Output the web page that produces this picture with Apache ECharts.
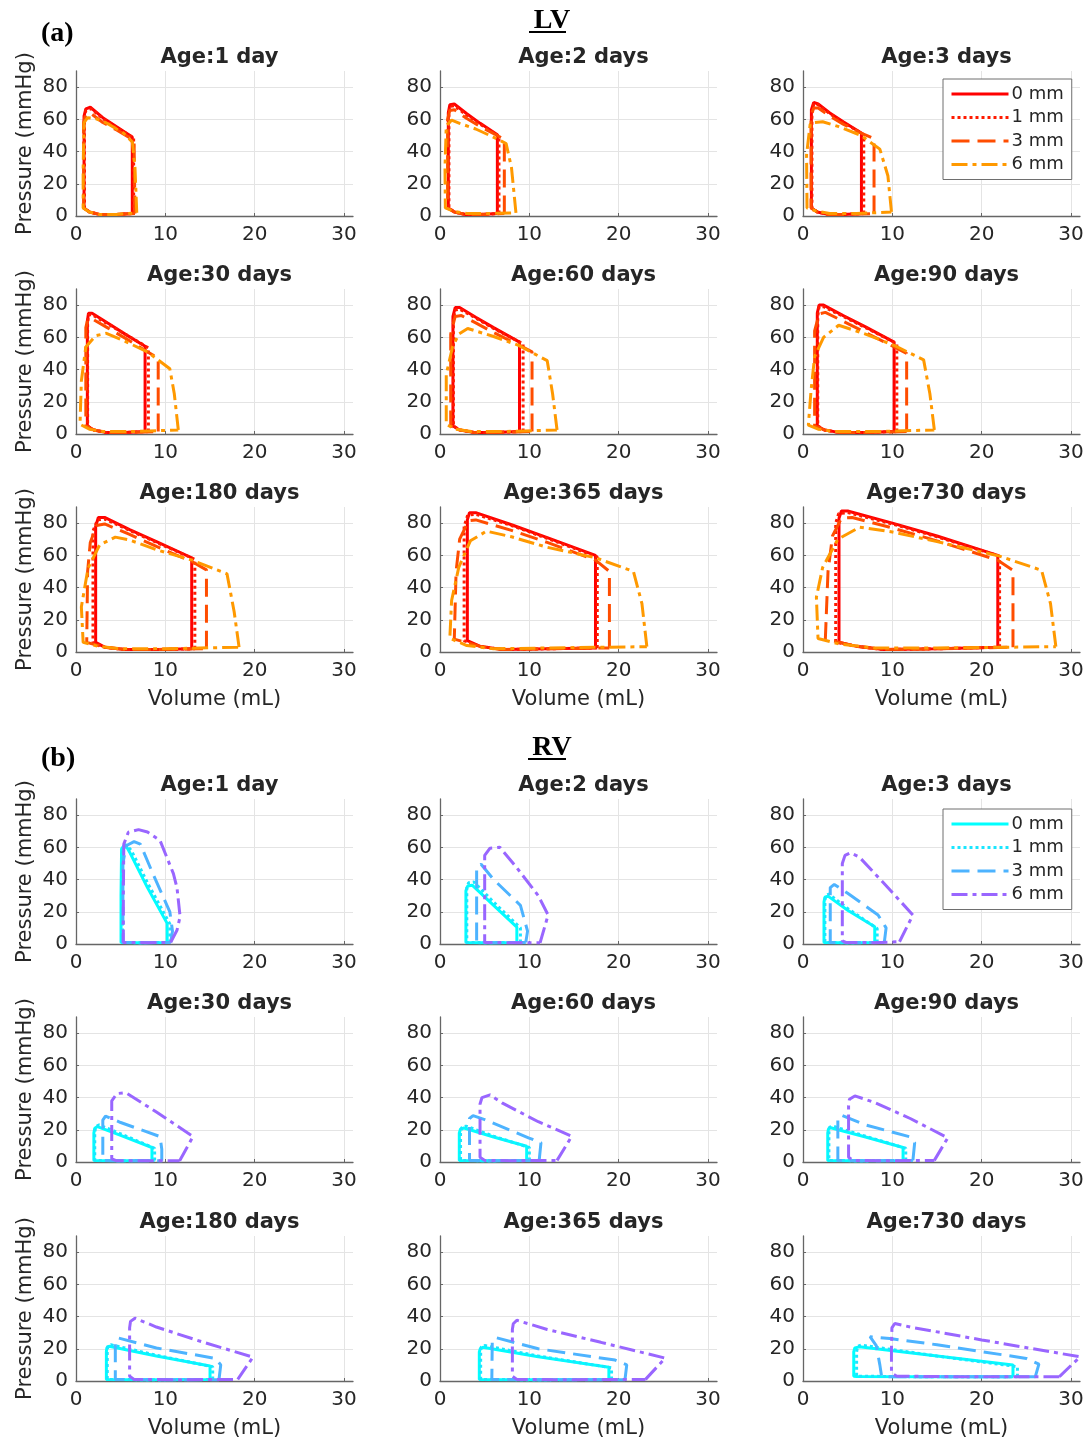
<!DOCTYPE html>
<html>
<head>
<meta charset="utf-8">
<script src="https://cdn.jsdelivr.net/npm/echarts@6/dist/echarts.min.js"></script>
<style>
html, body { margin: 0; padding: 0; background: #fff; }
#chart { width: 1090px; height: 1443px; }
</style>
</head>
<body>
<div id="chart"></div>
<script>
var ageTitles = ['Age:1 day', 'Age:2 days', 'Age:3 days', 'Age:30 days', 'Age:60 days', 'Age:90 days', 'Age:180 days', 'Age:365 days', 'Age:730 days'];
var bandLabels = ['0 mm', '1 mm', '3 mm', '6 mm'];
var lvColors = ['#ff0000', '#ff1a00', '#ff4d00', '#ff9900'];
var rvColors = ['#00ffff', '#1ae6ff', '#4db3ff', '#9966ff'];

// LV loops, per panel: [0 mm, 1 mm, 3 mm, 6 mm], points are [volume mL, pressure mmHg]
var lv_1day = [
	[[6.3,1.5],[6.3,49],[4.5,55.5],[3,61],[1.6,67.5],[1.1,66.5],[0.9,62],[0.9,5],[1.5,2.5],[2.6,1],[4.5,1],[6.3,1.5]],
	[[6.45,1.5],[6.45,48.5],[4.5,55],[3,60.5],[1.7,66.5],[1.1,65.5],[0.95,60],[0.95,5],[1.5,2.5],[2.6,1],[4.5,1],[6.45,1.5]],
	[[6.6,1.5],[6.5,46],[6.2,48],[4.5,53.5],[3,58],[1.7,63.5],[1.1,63],[0.85,58],[0.85,5],[1.5,2.5],[2.6,1],[4.5,1],[6.6,1.5]],
	[[6.8,2],[6.6,30],[6.3,46],[5.3,51.5],[3.5,57.5],[2.2,60.5],[1.3,61],[0.9,58],[0.8,30],[0.8,5],[1.5,2.5],[2.6,1],[4.5,1],[6.8,2]]
];
var lv_2days = [
	[[6.42,1.5],[6.42,50.5],[4.5,57.5],[3,63.5],[1.6,69.5],[1.1,69],[0.93,64],[0.93,5],[1.6,2.5],[2.8,1],[4.5,1],[6.42,1.5]],
	[[6.6,1.5],[6.6,49.5],[4.5,57],[3,62.5],[1.6,68.5],[1.1,68],[1.0,62],[1.0,5],[1.6,2.5],[2.8,1],[4.5,1],[6.6,1.5]],
	[[7.2,1.5],[7.2,47.5],[6.4,50],[4.5,55.5],[3,60.5],[1.6,66],[1.1,65.5],[0.85,60],[0.85,5],[1.6,2.5],[2.8,1],[4.5,1],[7.2,1.5]],
	[[8.5,2],[8.0,30],[7.4,45],[6.35,48],[4,54],[2.2,57.5],[1.3,59.5],[0.7,56],[0.56,30],[0.6,5],[1.5,3],[3,1.5],[5,1.5],[8.5,2]]
];
var lv_3days = [
	[[6.54,1.5],[6.54,51.5],[4.5,58.5],[3,64],[1.7,69.5],[1.2,70.5],[0.94,66],[0.94,5],[1.6,2.5],[2.8,1],[4.5,1],[6.54,1.5]],
	[[6.8,1.5],[6.8,50.5],[4.5,58],[3,63.5],[1.7,69],[1.2,69.5],[1.0,64],[1.0,5],[1.6,2.5],[2.8,1],[4.5,1],[6.8,1.5]],
	[[7.95,1.5],[7.95,48],[6.5,51.5],[4.5,57],[3,62],[1.7,67],[1.2,67],[0.9,62],[0.9,5],[1.6,2.5],[2.8,1],[4.5,1],[7.95,1.5]],
	[[9.9,2.5],[9.5,25],[8.6,41.5],[6.5,50],[4,55.5],[2.2,58.5],[1.3,58],[0.8,57],[0.4,38],[0.45,5],[1.5,3],[3,1.5],[6,1.5],[9.9,2.5]]
];
var lv_30days = [
	[[7.73,1.5],[7.73,54.5],[5.5,62],[3.5,69],[1.8,75],[1.4,75],[1.27,70],[1.27,5],[2,2.5],[3.3,1],[5.5,1],[7.73,1.5]],
	[[8.1,1.5],[8.1,53.5],[5.5,62],[3.5,68.5],[1.8,74],[1.4,74],[1.3,68],[1.3,5],[2,2.5],[3.3,1],[5.5,1],[8.1,1.5]],
	[[9.2,1.5],[9.2,47],[7.7,52],[5.5,59.5],[3.5,66],[1.8,71.5],[1.3,71],[1.1,66],[1.1,5],[2,2.5],[3.3,1],[5.5,1],[9.2,1.5]],
	[[11.45,2.5],[11,25],[10.5,40.5],[8,51],[5.5,57.5],[3.4,62.5],[2.2,61],[1.1,54],[0.6,33],[0.45,6],[1.5,3],[3,1.5],[6,1.5],[11.45,2.5]]
];
var lv_60days = [
	[[8.9,1.5],[8.9,57],[6,66],[4,72.5],[2.2,78.5],[1.7,78.5],[1.45,73],[1.45,5],[2.2,2.5],[3.8,1],[6,1],[8.9,1.5]],
	[[9.3,1.5],[9.3,56],[6,65.5],[4,72],[2.2,77.5],[1.7,77],[1.5,71],[1.5,5],[2.2,2.5],[3.8,1],[6,1],[9.3,1.5]],
	[[10.3,1.5],[10.3,51],[8.9,55],[6,63],[4,69],[2.4,73.5],[1.7,73],[1.2,62],[1.2,5],[2.2,2.5],[3.8,1],[6,1],[10.3,1.5]],
	[[13.1,2.5],[12.6,25],[12,45.5],[8.8,55],[6,60.5],[3.1,65.5],[2.1,62],[1.4,54],[0.7,37],[0.7,6],[1.7,3],[3.5,1.5],[7,1.5],[13.1,2.5]]
];
var lv_90days = [
	[[10.2,1.5],[10.2,57],[7,66.5],[4.5,73.5],[2.3,80],[1.8,80],[1.6,75],[1.6,5],[2.4,2.5],[4,1],[7,1],[10.2,1.5]],
	[[10.5,1.5],[10.5,56],[7,66],[4.5,73],[2.3,79],[1.8,79],[1.65,73],[1.65,5],[2.4,2.5],[4,1],[7,1],[10.5,1.5]],
	[[11.6,1.5],[11.6,50],[10.2,54],[7,63],[4.5,70],[2.5,75.5],[1.8,74.5],[1.3,64],[1.3,5],[2.4,2.5],[4,1],[7,1],[11.6,1.5]],
	[[14.7,2.5],[14.2,25],[13.5,46],[10.2,55],[7,62],[4,67.5],[2.3,60],[1.3,48],[0.9,27],[0.6,5.5],[1.7,3],[3.5,1.5],[8,1.5],[14.7,2.5]]
];
var lv_180days = [
	[[12.95,2],[12.95,58.5],[9,68.5],[6,76],[3.2,83.5],[2.5,83.5],[2.2,78],[2.2,6],[3.2,3],[5.5,1.5],[9,1.5],[12.95,2]],
	[[13.3,2],[13.3,57.5],[9,68],[6,75.5],[3.2,82.5],[2.4,82],[1.9,75],[1.9,6],[3.2,3],[5.5,1.5],[9,1.5],[13.3,2]],
	[[14.6,2],[14.6,51],[13,56],[9,65.5],[6,73],[3.2,79.5],[2.3,78.5],[1.6,68],[1.3,50],[1.2,6],[3.2,3],[5.5,1.5],[9,1.5],[14.6,2]],
	[[18.25,3],[17.7,25],[16.9,48.5],[13,57],[9,63.5],[6,69.5],[4.4,71.3],[2.65,66.5],[1.35,52],[0.6,28],[0.8,6],[2.5,3.5],[5,2],[10,2],[18.25,3]]
];
var lv_365days = [
	[[17.4,2.5],[17.4,60],[12,71],[8,79],[4,86.5],[3.3,86.5],[3.06,82],[3.06,7],[4.5,3.5],[7,1.5],[12,2],[17.4,2.5]],
	[[17.6,2.5],[17.6,59],[12,70.5],[8,78.5],[4,85.5],[3.1,85],[2.7,78],[2.7,7],[4.5,3.5],[7,1.5],[12,2],[17.6,2.5]],
	[[18.96,2.5],[18.96,50],[17.4,57],[12,68],[8,75.5],[4,82],[3.2,81.5],[2.2,70],[1.8,50],[1.6,8],[4.5,3.5],[7,1.5],[12,2],[18.96,2.5]],
	[[23.15,3.3],[22.6,30],[21.65,50],[17.4,58.5],[12,65],[8,71.5],[5.2,75],[3.4,69],[2.1,52.5],[1.3,32],[1.1,8.5],[3,4],[6,2],[12,2.5],[23.15,3.3]]
];
var lv_730days = [
	[[21.8,3],[21.8,60],[15,72],[10,80],[5,87.5],[4.3,87.5],[4.03,83],[4.03,6],[6,3.5],[9,1.5],[15,2],[21.8,3]],
	[[22,3],[22,59.5],[15,71.5],[10,79.5],[5,86.5],[4,86],[3.66,80],[3.66,6],[6,3.5],[9,1.5],[15,2],[22,3]],
	[[23.5,3],[23.5,50.7],[21.8,57],[15,69],[10,77],[5.5,83.5],[4.3,83],[3.3,72],[2.8,50],[2.5,8],[6,3.5],[9,1.5],[15,2],[23.5,3]],
	[[28.3,3.3],[27.7,30],[26.7,50.7],[22,59.5],[15,68.5],[10,74.5],[6.35,77.5],[3.9,70],[2.2,52.5],[1.5,34],[1.68,8.4],[4,5],[8,2.5],[15,2.5],[28.3,3.3]]
];

// RV loops, same layout
var rv_1day = [
	[[10.2,1],[10.2,12.8],[8,35],[6,57],[5.5,62],[5.1,59],[5.04,30],[5.04,1],[7,0.8],[10.2,1]],
	[[10.5,1],[10.5,12.5],[8,38],[6.2,58],[5.7,61],[5.2,57],[5.2,30],[5.2,1],[7,0.8],[10.5,1]],
	[[10.6,1],[10.8,8],[10.5,20],[8.5,45],[7.2,62],[6.5,63.5],[5.6,61],[5.25,50],[5.25,1],[7.5,0.8],[10.6,1]],
	[[10.6,1],[11.3,8.5],[11.65,17],[11.3,35],[10.9,43.7],[9.4,64.3],[8,69.5],[7,71],[5.86,69.4],[5.35,62],[5.3,30],[5.3,1],[8,0.8],[10.6,1]]
];
var rv_2days = [
	[[8.6,1],[8.6,10.5],[6,24],[3.6,36.5],[3.1,36],[2.9,33],[2.9,1],[5,0.8],[8.6,1]],
	[[9.0,1],[9.0,10],[6,26],[3.8,38.5],[3.2,38],[3.0,35],[3.0,1],[5,0.8],[9.0,1]],
	[[9.6,1],[9.8,8],[9.0,24],[6,40],[4.6,49.5],[4.1,48],[4.1,1],[6,0.8],[9.6,1]],
	[[11.2,0.8],[12.1,18],[11,30],[8.5,48],[6.7,60],[5.6,59.5],[5.0,55],[5.0,1],[8,0.8],[11.2,0.8]]
];
var rv_3days = [
	[[8.03,1],[8.03,10.7],[5,21],[2.8,29.7],[2.45,29],[2.35,26],[2.35,1],[5,0.8],[8.03,1]],
	[[8.3,1],[8.3,9.6],[5,22],[2.9,31],[2.55,30],[2.45,27],[2.45,1],[5,0.8],[8.3,1]],
	[[9.1,1],[9.3,10],[8.4,18],[5,31.5],[3.5,37],[3.05,35],[3.05,1],[6,0.8],[9.1,1]],
	[[10.8,1.4],[12.3,18],[9,38],[6.3,54],[5.3,56.6],[4.7,55],[4.4,50],[4.4,2],[4.8,1],[8,0.8],[10.8,1.4]]
];
var rv_30days = [
	[[8.5,1],[8.5,9],[5,16.5],[2.4,22],[2.1,21],[2.0,18],[2.0,1],[5,0.8],[8.5,1]],
	[[8.8,1],[8.8,8.5],[5,17.5],[2.6,23],[2.2,22],[2.1,18],[2.1,1],[5,0.8],[8.8,1]],
	[[9.6,0.8],[9.6,8],[9.4,15.8],[5,24.5],[3.3,28.5],[3.0,26],[3.0,1],[6,0.8],[9.6,0.8]],
	[[11.6,0.8],[13.1,15.8],[9,31],[5.6,43],[4.6,42.5],[4.0,38],[4.0,2],[4.5,0.8],[8,0.8],[11.6,0.8]]
];
var rv_60days = [
	[[9.7,1],[9.7,9.8],[6,15.5],[2.7,21.1],[2.3,20.5],[2.16,18],[2.16,1],[5,0.8],[9.7,1]],
	[[10,1],[10,9],[6,16],[2.9,22.3],[2.45,21.5],[2.3,18],[2.3,1],[5,0.8],[10,1]],
	[[11.1,1],[11.3,12],[9.9,15],[5,26.3],[3.7,28.8],[3.3,27],[3.3,1],[6,0.8],[11.1,1]],
	[[13.1,1],[14.75,16],[11,25],[7,36.5],[5.6,41.7],[4.7,40],[4.48,36],[4.48,3],[5,1],[8,0.8],[13.1,1]]
];
var rv_90days = [
	[[11.2,1],[11.2,9],[7,15.5],[3.1,21.3],[2.85,20.5],[2.77,18],[2.77,1],[6,0.8],[11.2,1]],
	[[11.5,1],[11.5,8.5],[7,16],[3.3,22.3],[2.95,21.5],[2.9,18],[2.9,1],[6,0.8],[11.5,1]],
	[[12.3,1],[12.5,12],[11.9,15.7],[7,23],[4.3,29],[3.9,27],[3.9,1],[7,0.8],[12.3,1]],
	[[14.7,1],[16.2,15],[12,27],[8,37],[5.8,41],[5.2,39],[5.1,35],[5.1,3],[5.6,1],[9,0.8],[14.7,1]]
];
var rv_180days = [
	[[15,1],[15,9.3],[9,15.5],[3.7,21.6],[3.45,20.5],[3.4,18],[3.4,1],[8,0.8],[15,1]],
	[[15.3,1],[15.3,8.8],[9,16],[3.9,22.5],[3.55,21.5],[3.5,18],[3.5,1],[8,0.8],[15.3,1]],
	[[16,0.8],[16.2,10],[15.6,14],[9,20.5],[4.8,26.6],[4.4,25],[4.4,1],[9,0.8],[16,0.8]],
	[[18.1,1],[19.8,14.8],[14,24.5],[9,33.5],[6.6,39],[6.1,37],[6,33],[6,3],[6.5,1],[11,0.8],[18.1,1]]
];
var rv_365days = [
	[[18.9,1],[18.9,8.6],[11,15],[4.8,21],[4.5,20],[4.4,18],[4.4,1],[10,0.8],[18.9,1]],
	[[19.2,1],[19.2,8.2],[11,15.5],[5,22],[4.6,21],[4.55,18],[4.55,1],[10,0.8],[19.2,1]],
	[[20.7,0.8],[20.9,10],[19.6,13],[11,20],[6.2,27],[5.85,25],[5.8,1],[11,0.8],[20.7,0.8]],
	[[23,1],[25.2,14.2],[18,24],[12,32],[8.6,37.7],[8.2,35.5],[8.1,32],[8.1,3],[8.6,1],[14,0.8],[23,1]]
];
var rv_730days = [
	[[23.5,2.7],[23.5,9.9],[15,15.5],[6.3,21.2],[5.8,20.5],[5.68,18],[5.68,3],[6,2.8],[14,2.6],[23.5,2.7]],
	[[24,2.7],[24,8.9],[15,15.5],[6.5,22.3],[6.1,21.5],[6.0,18],[6.0,3],[14,2.6],[24,2.7]],
	[[26,2.7],[26.4,10.5],[25,14],[15,22.5],[9.7,26.4],[7.5,27.5],[8.2,22],[8.6,10],[8.8,2.7],[16,2.6],[26,2.7]],
	[[28.7,2.7],[31,15],[20,25.5],[12,33.5],[10.27,35.7],[9.95,33],[9.9,20],[9.9,5],[10.5,3],[18,2.6],[28.7,2.7]]
];

var lvPanels = [lv_1day, lv_2days, lv_3days, lv_30days, lv_60days, lv_90days, lv_180days, lv_365days, lv_730days];
var rvPanels = [rv_1day, rv_2days, rv_3days, rv_30days, rv_60days, rv_90days, rv_180days, rv_365days, rv_730days];

var myChart = echarts.init(document.getElementById('chart'));

var sansFont = 'DejaVu Sans';
var textColor = '#262626';
var colLeft = [76, 440, 803];
var rowTop = [71, 289, 507, 799, 1017, 1236];
var plotW = 277, plotH = 145;
// dotted, dashed, dash-dot like the matlab styles
var dashTypes = ['solid', [3, 3], [18, 8], [16, 5, 4, 5]];

var grids = [], xAxes = [], yAxes = [], series = [], titles = [];

function addPanel(idx, row, col, loops, colors, prefix, title) {
	grids.push({ left: colLeft[col], top: rowTop[row], width: plotW, height: plotH });
	xAxes.push({
		gridIndex: idx, type: 'value', min: 0, max: 31, interval: 10,
		name: (row == 2 || row == 5) ? 'Volume (mL)' : '',
		nameLocation: 'middle', nameGap: 37,
		nameTextStyle: { color: textColor, fontSize: 21, fontFamily: sansFont },
		axisLine: { show: true, onZero: false, lineStyle: { color: '#666666', width: 1.3 } },
		axisTick: { show: true, inside: true, length: 3, lineStyle: { color: '#666666' } },
		axisLabel: { showMaxLabel: false, color: textColor, fontSize: 20, fontFamily: sansFont, margin: 9 },
		splitLine: { show: true, showMaxLine: false, lineStyle: { color: '#e4e4e4', width: 1 } }
	});
	yAxes.push({
		gridIndex: idx, type: 'value', min: 0, max: 90, interval: 20,
		name: col == 0 ? 'Pressure (mmHg)' : '',
		nameLocation: 'middle', nameGap: 40,
		nameTextStyle: { color: textColor, fontSize: 21, fontFamily: sansFont },
		axisLine: { show: true, onZero: false, lineStyle: { color: '#666666', width: 1.3 } },
		axisTick: { show: true, inside: true, length: 3, lineStyle: { color: '#666666' } },
		axisLabel: { showMaxLabel: false, color: textColor, fontSize: 20, fontFamily: sansFont, margin: 8 },
		splitLine: { show: true, showMaxLine: false, lineStyle: { color: '#e4e4e4', width: 1 } }
	});
	titles.push({
		text: title, left: colLeft[col] + plotW / 2, top: rowTop[row] - 29, textAlign: 'center',
		textStyle: { color: textColor, fontSize: 21, fontWeight: 'bold', fontFamily: sansFont }
	});
	for (var k = 0; k < loops.length; k++) {
		series.push({
			name: prefix + ':' + bandLabels[k],
			type: 'line',
			xAxisIndex: idx,
			yAxisIndex: idx,
			data: loops[k],
			symbol: 'none',
			showSymbol: false,
			smooth: false,
			silent: true,
			lineStyle: { color: colors[k], width: 3, type: dashTypes[k] },
			itemStyle: { color: colors[k] }
		});
	}
}

for (var i = 0; i < 9; i++) {
	addPanel(i, Math.floor(i / 3), i % 3, lvPanels[i], lvColors, 'LV', ageTitles[i]);
}
for (var j = 0; j < 9; j++) {
	addPanel(9 + j, 3 + Math.floor(j / 3), j % 3, rvPanels[j], rvColors, 'RV', ageTitles[j]);
}

var headStyle = { color: '#000', fontSize: 28, fontWeight: 'bold', fontFamily: 'Liberation Serif' };
titles.push({ text: '(a)', left: 36, top: 15, textStyle: headStyle });
titles.push({ text: 'LV', left: 547, top: 2, textAlign: 'center', textStyle: headStyle });
titles.push({ text: '(b)', left: 36, top: 740, textStyle: headStyle });
titles.push({ text: 'RV', left: 547, top: 729, textAlign: 'center', textStyle: headStyle });

function makeLegend(prefix, top) {
	return {
		data: bandLabels.map(function (l) { return prefix + ':' + l; }),
		orient: 'vertical',
		left: 943,
		top: top,
		itemWidth: 57,
		itemHeight: 14,
		itemGap: 3.5,
		padding: [5, 8, 5, 7],
		selectedMode: false,
		backgroundColor: '#fff',
		borderColor: '#6e6e6e',
		borderWidth: 1,
		borderRadius: 0,
		itemStyle: { opacity: 0, borderWidth: 0 },
		lineStyle: { opacity: 1, width: 3 },
		formatter: function (name) { return name.split(':')[1]; },
		textStyle: { color: textColor, fontSize: 18, fontFamily: sansFont, lineHeight: 20, padding: [0, 0, 0, -2] }
	};
}

var option = {
	backgroundColor: '#fff',
	animation: false,
	title: titles,
	legend: [makeLegend('LV', 79), makeLegend('RV', 809)],
	grid: grids,
	xAxis: xAxes,
	yAxis: yAxes,
	series: series,
	graphic: [
		{ type: 'line', shape: { x1: 529, y1: 32, x2: 566, y2: 32 }, style: { stroke: '#000', lineWidth: 2 } },
		{ type: 'line', shape: { x1: 528, y1: 759, x2: 566, y2: 759 }, style: { stroke: '#000', lineWidth: 2 } }
	]
};

myChart.setOption(option);
</script>
</body>
</html>
